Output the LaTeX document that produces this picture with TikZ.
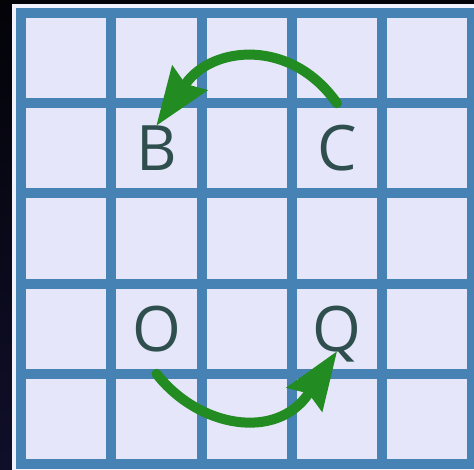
\documentclass[tikz,border=0pt]{standalone}
\usepackage{fontspec}
\setmainfont{Open Sans}
\usetikzlibrary{arrows.meta}

\definecolor{gridblue}{RGB}{70,130,180}
\definecolor{cellfill}{RGB}{230,230,250}
\definecolor{lettergray}{RGB}{47,79,79}
\definecolor{turngreen}{RGB}{34,139,34}
\definecolor{bgtop}{RGB}{3,3,8}
\definecolor{bgbottom}{RGB}{16,15,42}
\definecolor{panelwhite}{RGB}{242,242,252}

\begin{document}
\begin{tikzpicture}[
  x=0.75pt, y=0.75pt,
  cell/.style={draw=gridblue, fill=cellfill, line width=7.5pt,
    minimum size=67.65pt, inner sep=0pt, outer sep=0pt},
  letter/.style={text=lettergray, font=\fontsize{47}{50}\selectfont,
    inner sep=0pt, text height=33.75pt, text depth=0pt},
  turn/.style={draw=turngreen, line width=7.5pt, line cap=round,
    -{Stealth[length=44pt, width=33pt, inset=6pt, line width=0pt]}},
]
\useasboundingbox (0,0) rectangle (474,470);

% ------------------------------------------------------------------
% backdrop
% ------------------------------------------------------------------
\shade[top color=bgtop, bottom color=bgbottom] (0,0) rectangle (474,470);
\fill[panelwhite] (12,0) rectangle (474,466);

% ------------------------------------------------------------------
% the 5x5 board (column c, row r counted from the top)
% ------------------------------------------------------------------
\foreach \r in {0,...,4}
  \foreach \c in {0,...,4}
    \node[cell] (cell-\c-\r) at ({66.3+90.2*\c},{411.9-90.2*\r}) {};

% letters
\node[letter] (B) at (cell-1-1) {B};
\node[letter] (C) at (cell-3-1) {C};
\node[letter] (O) at (cell-1-3) {O};
\node[letter] (Q) at (cell-3-3) {Q};

% ------------------------------------------------------------------
% turning arrows
% ------------------------------------------------------------------
\draw[turn] (cell-3-1.north)
  to[out=125, in=55, out looseness=1.12, in looseness=1.38] (B.north);
\draw[turn] (cell-1-3.south)
  to[out=-52, in=236, out looseness=0.97, in looseness=1.52] (Q.south);
\end{tikzpicture}
\end{document}
